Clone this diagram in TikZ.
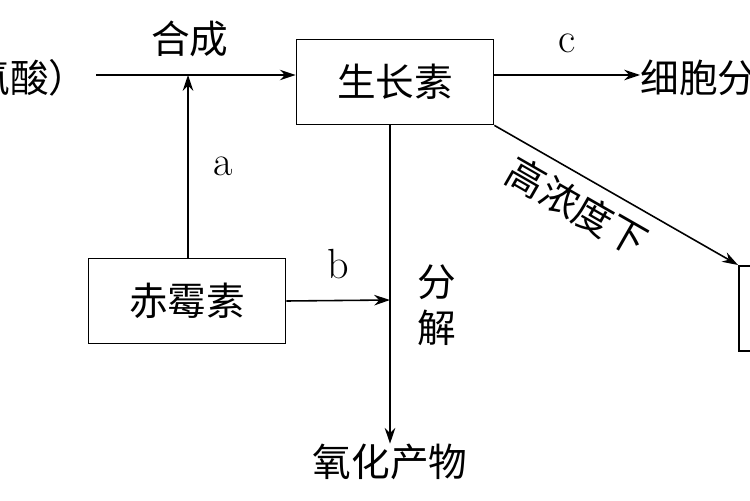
\documentclass[tikz,border=0pt]{standalone}
\usepackage{fontspec}
\newfontfamily\cjk{Noto Sans CJK SC}
\usetikzlibrary{arrows.meta}
\begin{document}
\begin{tikzpicture}
[
x=0.02cm,y=-0.02cm,
box/.style={draw,line width=1pt,minimum width=3.94cm,minimum height=1.7cm,font=\cjk\fontsize{22}{26}\selectfont},
txt/.style={font=\cjk\fontsize{22}{26}\selectfont,inner sep=0pt},
lab/.style={font=\fontsize{24}{28}\selectfont,inner sep=0pt},
arr/.style={-{Stealth[length=9pt,width=6pt]},line width=0.9pt},
]
\useasboundingbox (0,0) rectangle (750,500);

%Place the nodes
\node[txt,anchor=east] (trp) at (88,78) {色氨酸）};
\node[box] (iaa) at (395,82) {生长素};
\node[box] (ga) at (187,301) {赤霉素};
\node[txt,anchor=west] (cell) at (640,78) {细胞分};
\node[txt] (ox) at (390,462) {氧化产物};
\node[draw,line width=1pt,anchor=north west,minimum width=2cm,minimum height=1.7cm] (right) at (738,265) {};
\coordinate (start) at (96,75);
\coordinate (join) at (188,75);
\coordinate (dec) at (390,300);

%Draw the connections
\draw[arr] (start) -- node[txt,above=10pt,pos=0.47] {合成} (start -| iaa.west);
\draw[arr] (ga.north -| join) -- node[lab,right=14pt] {a} (join);
\draw[arr] (start -| iaa.east) -- node[lab,above=12pt] {c} (start -| cell.west);
\draw[arr] (ga.east) -- node[lab,above=12pt] {b} (dec);
\draw[arr] (iaa.south -| dec) -- (ox.north);
\node[txt,align=center] at (437,305) {分\\解};
\draw[arr] (iaa.south east) -- node[txt,sloped,below=6pt,pos=0.4] {高浓度下} (right.north west);
\end{tikzpicture}
\end{document}
